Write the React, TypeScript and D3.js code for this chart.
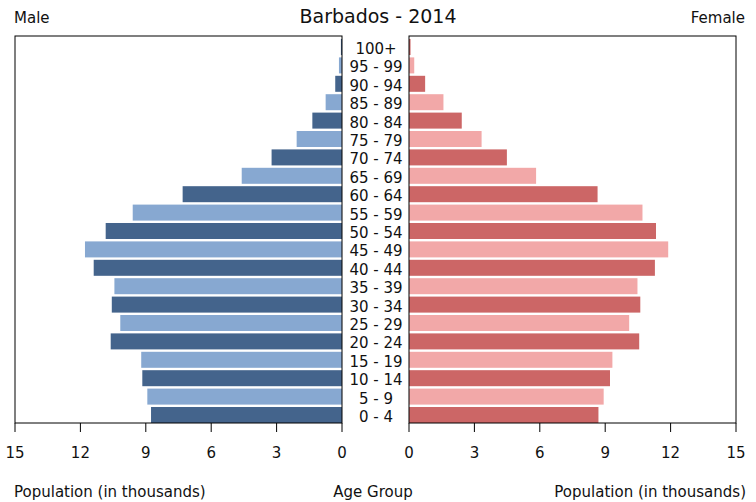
import React from "react";
import * as d3 from "d3";

const ageGroups = ["0 - 4","5 - 9","10 - 14","15 - 19","20 - 24","25 - 29","30 - 34","35 - 39","40 - 44","45 - 49","50 - 54","55 - 59","60 - 64","65 - 69","70 - 74","75 - 79","80 - 84","85 - 89","90 - 94","95 - 99","100+"];
const maleValues = [8.76, 8.93, 9.16, 9.21, 10.61, 10.17, 10.56, 10.44, 11.39, 11.79, 10.84, 9.6, 7.31, 4.6, 3.23, 2.08, 1.36, 0.75, 0.31, 0.14, 0.05];
const femaleValues = [8.69, 8.93, 9.22, 9.33, 10.56, 10.1, 10.61, 10.48, 11.28, 11.89, 11.33, 10.71, 8.65, 5.83, 4.49, 3.33, 2.42, 1.58, 0.74, 0.24, 0.07];
const tickValues = [0, 3, 6, 9, 12, 15];

const W = 756, H = 502;
const top = 36, bottom = 423;
const lLeft = 15, lRight = 342, rLeft = 409, rRight = 736;
const font = "DejaVu Sans, sans-serif";

export default function App() {
  const xL = d3.scaleLinear().domain([0, 15]).range([lRight, lLeft]);
  const xR = d3.scaleLinear().domain([0, 15]).range([rLeft, rRight]);
  const y = d3.scaleBand().domain([...ageGroups].reverse()).range([39, 423]).paddingInner(0.13).paddingOuter(0);
  const colors = (i: number, male: boolean) =>
    male ? (i % 2 === 0 ? "#44648c" : "#87a8d1") : (i % 2 === 0 ? "#cc6666" : "#f2a8a8");
  return (
    <svg width={W} height={H} style={{ position: "absolute", left: 0, top: 0 }} fontFamily={font}>
      <rect x={0} y={0} width={W} height={H} fill="#fff" />
      <text x={W / 2} y={23} textAnchor="middle" fontSize={19} fill="#111">Barbados - 2014</text>
      <text x={14} y={23} fontSize={15} fill="#111">Male</text>
      <text x={745} y={23} textAnchor="end" fontSize={15} fill="#111">Female</text>
      {ageGroups.map((g, i) => (
        <g key={g}>
          <rect x={xL(maleValues[i])} y={y(g)} width={lRight - xL(maleValues[i])} height={y.bandwidth()} fill={colors(i, true)} />
          <rect x={rLeft} y={y(g)} width={xR(femaleValues[i]) - rLeft} height={y.bandwidth()} fill={colors(i, false)} />
          <text x={376} y={(y(g) as number) + y.bandwidth() / 2 + 7} textAnchor="middle" fontSize={15} fill="#111">{g}</text>
        </g>
      ))}
      <rect x={lLeft} y={top} width={lRight - lLeft} height={bottom - top} fill="none" stroke="#000" strokeWidth={1} />
      <rect x={rLeft} y={top} width={rRight - rLeft} height={bottom - top} fill="none" stroke="#000" strokeWidth={1} />
      {tickValues.map((t) => (
        <g key={"l" + t}>
          <line x1={xL(t)} x2={xL(t)} y1={bottom} y2={bottom + 9} stroke="#000" />
          <text x={xL(t)} y={458} textAnchor="middle" fontSize={15} fill="#111">{t}</text>
          <line x1={xR(t)} x2={xR(t)} y1={bottom} y2={bottom + 9} stroke="#000" />
          <text x={xR(t)} y={458} textAnchor="middle" fontSize={15} fill="#111">{t}</text>
        </g>
      ))}
      <text x={14} y={497} fontSize={15} fill="#111">Population (in thousands)</text>
      <text x={373} y={497} textAnchor="middle" fontSize={15} fill="#111">Age Group</text>
      <text x={746} y={497} textAnchor="end" fontSize={15} fill="#111">Population (in thousands)</text>
    </svg>
  );
}
